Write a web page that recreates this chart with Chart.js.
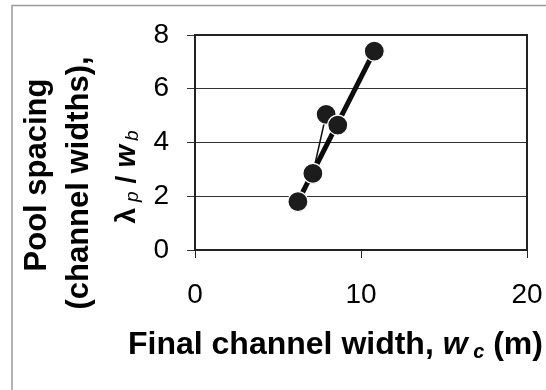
<!DOCTYPE html>
<html>
<head>
<meta charset="utf-8">
<style>
  html, body { margin: 0; padding: 0; background: #fff; }
  #wrap { position: relative; width: 546px; height: 390px; }
  canvas { display: block; }
</style>
<script src="https://cdn.jsdelivr.net/npm/chart.js@4.4.1/dist/chart.umd.min.js"></script>
</head>
<body>
<div id="wrap"><canvas id="c" width="546" height="390"></canvas></div>
<script>
// Final channel width (m) and pool spacing (channel widths) for each reach
const channelWidth = [6.2, 7.1, 7.9, 8.6, 10.8];
const poolSpacing = [1.8, 2.85, 5.05, 4.65, 7.4];

// Trend line end points
const trendWidth = [6.2, 10.8];
const trendSpacing = [1.8, 7.4];

const xTicks = [0, 10, 20];
const yTicks = [0, 2, 4, 6, 8];

const FONT = "'Liberation Sans', Arial, Helvetica, sans-serif";

const points = channelWidth.map((x, i) => ({ x, y: poolSpacing[i] }));
const trend = trendWidth.map((x, i) => ({ x, y: trendSpacing[i] }));

// Draws a run of text pieces with their own fonts and vertical shifts
function drawRuns(ctx, runs, x, y, align) {
  let total = 0;
  runs.forEach(r => { ctx.font = r.font; total += ctx.measureText(r.text).width + (r.gap || 0); });
  let cx = align === 'center' ? x - total / 2 : x;
  runs.forEach(r => {
    ctx.font = r.font;
    ctx.fillText(r.text, cx, y + (r.dy || 0));
    cx += ctx.measureText(r.text).width + (r.gap || 0);
  });
}

const decor = {
  id: 'decor',
  beforeDraw(chart) {
    const ctx = chart.ctx;
    ctx.save();
    ctx.strokeStyle = '#9a9a9a';
    ctx.lineWidth = 1.5;
    ctx.beginPath();
    ctx.moveTo(12, 390);
    ctx.lineTo(12, 5.5);
    ctx.lineTo(546, 5.5);
    ctx.stroke();
    ctx.restore();
  },
  afterDatasetsDraw(chart) {
    const { ctx, chartArea: a } = chart;
    ctx.save();
    ctx.strokeStyle = '#222';
    ctx.lineWidth = 2;
    ctx.strokeRect(a.left, a.top, a.right - a.left, a.bottom - a.top);
    ctx.restore();
  },
  afterDraw(chart) {
    const ctx = chart.ctx;
    ctx.save();
    ctx.fillStyle = '#000';
    ctx.textBaseline = 'alphabetic';

    // x axis title
    drawRuns(ctx, [
      { text: 'Final channel width, ', font: 'bold 32px ' + FONT },
      { text: 'w', font: 'italic bold 32px ' + FONT },
      { text: ' c', font: 'italic bold 20px ' + FONT, dy: 4 },
      { text: ' (m)', font: 'bold 32px ' + FONT }
    ], 128, 354, 'left');

    // y axis title, three rotated lines
    const lines = [
      { x: 46, y: 175, runs: [{ text: 'Pool spacing', font: 'bold 31px ' + FONT }] },
      { x: 88, y: 183, runs: [{ text: '(channel widths),', font: 'bold 31px ' + FONT }] },
      { x: 135, y: 177, runs: [
        { text: 'λ', font: 'bold 28px ' + FONT, gap: 6 },
        { text: 'p', font: 'italic 19px ' + FONT, dy: 3, gap: 8 },
        { text: '/', font: 'bold 28px ' + FONT, gap: 8 },
        { text: 'w', font: 'italic bold 29px ' + FONT, gap: 4 },
        { text: 'b', font: 'italic 19px ' + FONT, dy: 3 }
      ] }
    ];
    lines.forEach(l => {
      ctx.save();
      ctx.translate(l.x, l.y);
      ctx.rotate(-Math.PI / 2);
      drawRuns(ctx, l.runs, 0, 0, 'center');
      ctx.restore();
    });
    ctx.restore();
  }
};

new Chart(document.getElementById('c'), {
  type: 'scatter',
  data: {
    datasets: [
      {
        label: 'Pool spacing',
        data: points,
        showLine: true,
        borderColor: '#111',
        borderWidth: 1.5,
        pointRadius: 10,
        pointBackgroundColor: '#1c1c1c',
        pointBorderColor: '#fff',
        pointBorderWidth: 1.2
      },
      {
        label: 'Trend',
        data: trend,
        showLine: true,
        borderColor: '#0a0a0a',
        borderWidth: 5,
        pointRadius: 0
      }
    ]
  },
  options: {
    responsive: false,
    animation: false,
    layout: { padding: { left: 0, right: 19, top: 35, bottom: 0 } },
    plugins: { legend: { display: false }, tooltip: { enabled: false } },
    scales: {
      x: {
        type: 'linear',
        min: 0, max: 20,
        afterBuildTicks(s) { s.ticks = xTicks.map(v => ({ value: v })); },
        afterFit(s) { s.height = 140; s.paddingLeft = 0; s.paddingRight = 0; },
        border: { display: true, color: '#222', width: 2 },
        grid: { drawOnChartArea: false, drawTicks: true, tickLength: 8, color: '#222', lineWidth: 1 },
        ticks: { color: '#000', font: { family: FONT, size: 28 }, padding: 20, maxRotation: 0 }
      },
      y: {
        type: 'linear',
        min: 0, max: 8,
        afterBuildTicks(s) { s.ticks = yTicks.map(v => ({ value: v })); },
        afterFit(s) { s.width = 195; s.paddingTop = 0; s.paddingBottom = 0; },
        border: { display: true, color: '#222', width: 2 },
        grid: { color: '#333', lineWidth: 1, tickLength: 8, drawTicks: true },
        ticks: { color: '#000', font: { family: FONT, size: 28 }, padding: 18 }
      }
    }
  },
  plugins: [decor]
});
</script>
</body>
</html>
